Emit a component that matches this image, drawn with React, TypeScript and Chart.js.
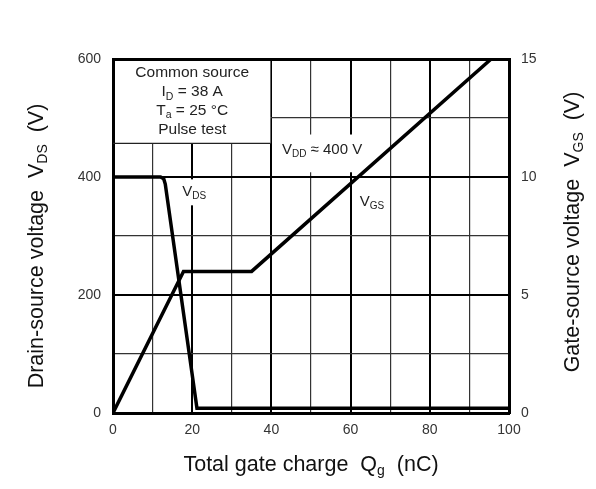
import { useEffect, useRef } from "react"
import { Chart, registerables } from "chart.js"

Chart.register(...registerables)

// Gate charge (nC) and voltage readings
const qgVds = [0, 12, 12.8, 13.2, 21.2, 100]
const vds = [400, 400, 397, 388, 8, 8]
const qgVgs = [0, 17.8, 35, 95.5]
const vgs = [0, 6, 6, 15]

const xTicks = [0, 20, 40, 60, 80, 100]
const leftTicks = [0, 200, 400, 600]
const rightTicks = [0, 5, 10, 15]

const FONT = "'Liberation Sans', Arial, sans-serif"

type Seg = { t: string; sub?: boolean }

function drawRich(ctx: CanvasRenderingContext2D, segs: Seg[], x: number, y: number, size: number, subSize: number) {
  const widths = segs.map((s) => {
    ctx.font = `${s.sub ? subSize : size}px ${FONT}`
    return ctx.measureText(s.t).width
  })
  const total = widths.reduce((a, b) => a + b, 0)
  let cx = x - total / 2
  ctx.textAlign = "left"
  ctx.textBaseline = "middle"
  segs.forEach((s, i) => {
    ctx.font = `${s.sub ? subSize : size}px ${FONT}`
    ctx.fillText(s.t, cx, s.sub ? y + size * 0.3 : y)
    cx += widths[i]
  })
  return total
}

const annotations = {
  id: "annotations",
  beforeDatasetsDraw(chart: Chart) {
    const { ctx, chartArea } = chart
    const xs = chart.scales.x
    const ys = chart.scales.y
    ctx.save()

    // condition box
    const bx0 = chartArea.left + 2
    const bx1 = xs.getPixelForValue(40) - 1
    const by0 = chartArea.top + 2
    const by1 = ys.getPixelForValue(457)
    ctx.fillStyle = "#fff"
    ctx.fillRect(bx0, by0, bx1 - bx0, by1 - by0)
    ctx.strokeStyle = "#222"
    ctx.lineWidth = 1.2
    ctx.beginPath()
    ctx.moveTo(chartArea.left, by1)
    ctx.lineTo(bx1, by1)
    ctx.stroke()

    ctx.fillStyle = "#222"
    const cx = xs.getPixelForValue(20)
    drawRich(ctx, [{ t: "Common source" }], cx, ys.getPixelForValue(576), 15.5, 10.5)
    drawRich(ctx, [{ t: "I" }, { t: "D", sub: true }, { t: " = 38 A" }], cx, ys.getPixelForValue(544), 15.5, 10.5)
    drawRich(ctx, [{ t: "T" }, { t: "a", sub: true }, { t: " = 25 °C" }], cx, ys.getPixelForValue(512), 15.5, 10.5)
    drawRich(ctx, [{ t: "Pulse test" }], cx, ys.getPixelForValue(480), 15.5, 10.5)

    // VDD label
    ctx.fillStyle = "#fff"
    ctx.fillRect(xs.getPixelForValue(41.5), ys.getPixelForValue(472), xs.getPixelForValue(64) - xs.getPixelForValue(41.5), ys.getPixelForValue(408) - ys.getPixelForValue(472))
    ctx.fillStyle = "#222"
    drawRich(ctx, [{ t: "V" }, { t: "DD", sub: true }, { t: " ≈ 400 V" }], xs.getPixelForValue(52.8), ys.getPixelForValue(446), 15, 10)

    // VDS label
    ctx.fillStyle = "#fff"
    ctx.fillRect(xs.getPixelForValue(16.8), ys.getPixelForValue(396), xs.getPixelForValue(24.2) - xs.getPixelForValue(16.8), ys.getPixelForValue(352) - ys.getPixelForValue(396))
    ctx.fillStyle = "#222"
    drawRich(ctx, [{ t: "V" }, { t: "DS", sub: true }], xs.getPixelForValue(20.5), ys.getPixelForValue(375), 15, 10)

    // VGS label
    drawRich(ctx, [{ t: "V" }, { t: "GS", sub: true }], xs.getPixelForValue(65.4), ys.getPixelForValue(358), 15, 10)

    ctx.restore()
  },
  afterDraw(chart: Chart) {
    const { ctx } = chart
    ctx.save()
    ctx.fillStyle = "#111"
    // bottom title
    drawRich(ctx, [{ t: "Total gate charge  Q" }, { t: "g", sub: true }, { t: "  (nC)" }], 311, 465, 21.5, 14)
    // left title
    ctx.save()
    ctx.translate(37, 246)
    ctx.rotate(-Math.PI / 2)
    drawRich(ctx, [{ t: "Drain-source voltage  V" }, { t: "DS", sub: true }, { t: "  (V)" }], 0, 0, 21.5, 14)
    ctx.restore()
    // right title
    ctx.save()
    ctx.translate(573, 232)
    ctx.rotate(-Math.PI / 2)
    drawRich(ctx, [{ t: "Gate-source voltage  V" }, { t: "GS", sub: true }, { t: "  (V)" }], 0, 0, 21.5, 14)
    ctx.restore()
    ctx.restore()
  },
}

export default function App() {
  const chartRef = useRef<HTMLCanvasElement>(null)
  const chartInstance = useRef<Chart | null>(null)

  useEffect(() => {
    document.body.style.margin = "0"
    if (!chartRef.current) return
    if (chartInstance.current) chartInstance.current.destroy()
    const ctx = chartRef.current.getContext("2d")
    if (!ctx) return

    Chart.defaults.font.family = FONT

    const gridWidth = (major: number, edge: number) => (c: any) => {
      const v = c.tick ? c.tick.value : 0
      if (v === edge) return 3
      return v % major === 0 ? 2 : 1.2
    }
    const gridColor = (major: number) => (c: any) => {
      const v = c.tick ? c.tick.value : 0
      return v % major === 0 ? "#000" : "#333"
    }

    chartInstance.current = new Chart(ctx, {
      type: "line",
      data: {
        datasets: [
          {
            label: "VDS",
            data: qgVds.map((q, i) => ({ x: q, y: vds[i] })),
            borderColor: "#000",
            borderWidth: 3.5,
            pointRadius: 0,
            fill: false,
            tension: 0,
            yAxisID: "y",
          },
          {
            label: "VGS",
            data: qgVgs.map((q, i) => ({ x: q, y: vgs[i] })),
            borderColor: "#000",
            borderWidth: 3.5,
            pointRadius: 0,
            fill: false,
            tension: 0,
            yAxisID: "y1",
          },
        ],
      },
      options: {
        responsive: false,
        animation: false,
        layout: { padding: { top: 59, left: 0, right: 0, bottom: 0 } },
        plugins: {
          legend: { display: false },
          tooltip: { enabled: false },
          title: { display: false },
        },
        scales: {
          x: {
            type: "linear",
            min: 0,
            max: 100,
            afterFit: (s: any) => {
              s.height = 76
            },
            border: { width: 3, color: "#000" },
            grid: { drawTicks: false, lineWidth: gridWidth(20, -1), color: gridColor(20) },
            ticks: {
              stepSize: 10,
              autoSkip: false,
              maxRotation: 0,
              padding: 9,
              color: "#333",
              font: { size: 14 },
              callback: (v: any) => (xTicks.includes(Number(v)) ? String(v) : ""),
            },
          },
          y: {
            type: "linear",
            position: "left",
            min: 0,
            max: 600,
            afterFit: (s: any) => {
              s.width = 113
            },
            border: { width: 3, color: "#000" },
            grid: { drawTicks: false, lineWidth: gridWidth(200, 600), color: gridColor(200) },
            ticks: {
              stepSize: 100,
              autoSkip: false,
              padding: 12,
              color: "#333",
              font: { size: 14 },
              callback: (v: any) => (leftTicks.includes(Number(v)) ? String(v) : ""),
            },
          },
          y1: {
            type: "linear",
            position: "right",
            min: 0,
            max: 15,
            afterFit: (s: any) => {
              s.width = 87
            },
            border: { width: 3, color: "#000" },
            grid: { drawOnChartArea: false, drawTicks: false },
            ticks: {
              stepSize: 5,
              autoSkip: false,
              padding: 12,
              color: "#333",
              font: { size: 14 },
              callback: (v: any) => (rightTicks.includes(Number(v)) ? String(v) : ""),
            },
          },
        },
      },
      plugins: [annotations],
    })

    return () => {
      if (chartInstance.current) {
        chartInstance.current.destroy()
        chartInstance.current = null
      }
    }
  }, [])

  return (
    <div style={{ width: 596, height: 489, background: "#fff" }}>
      <canvas ref={chartRef} width={596} height={489} />
    </div>
  )
}
